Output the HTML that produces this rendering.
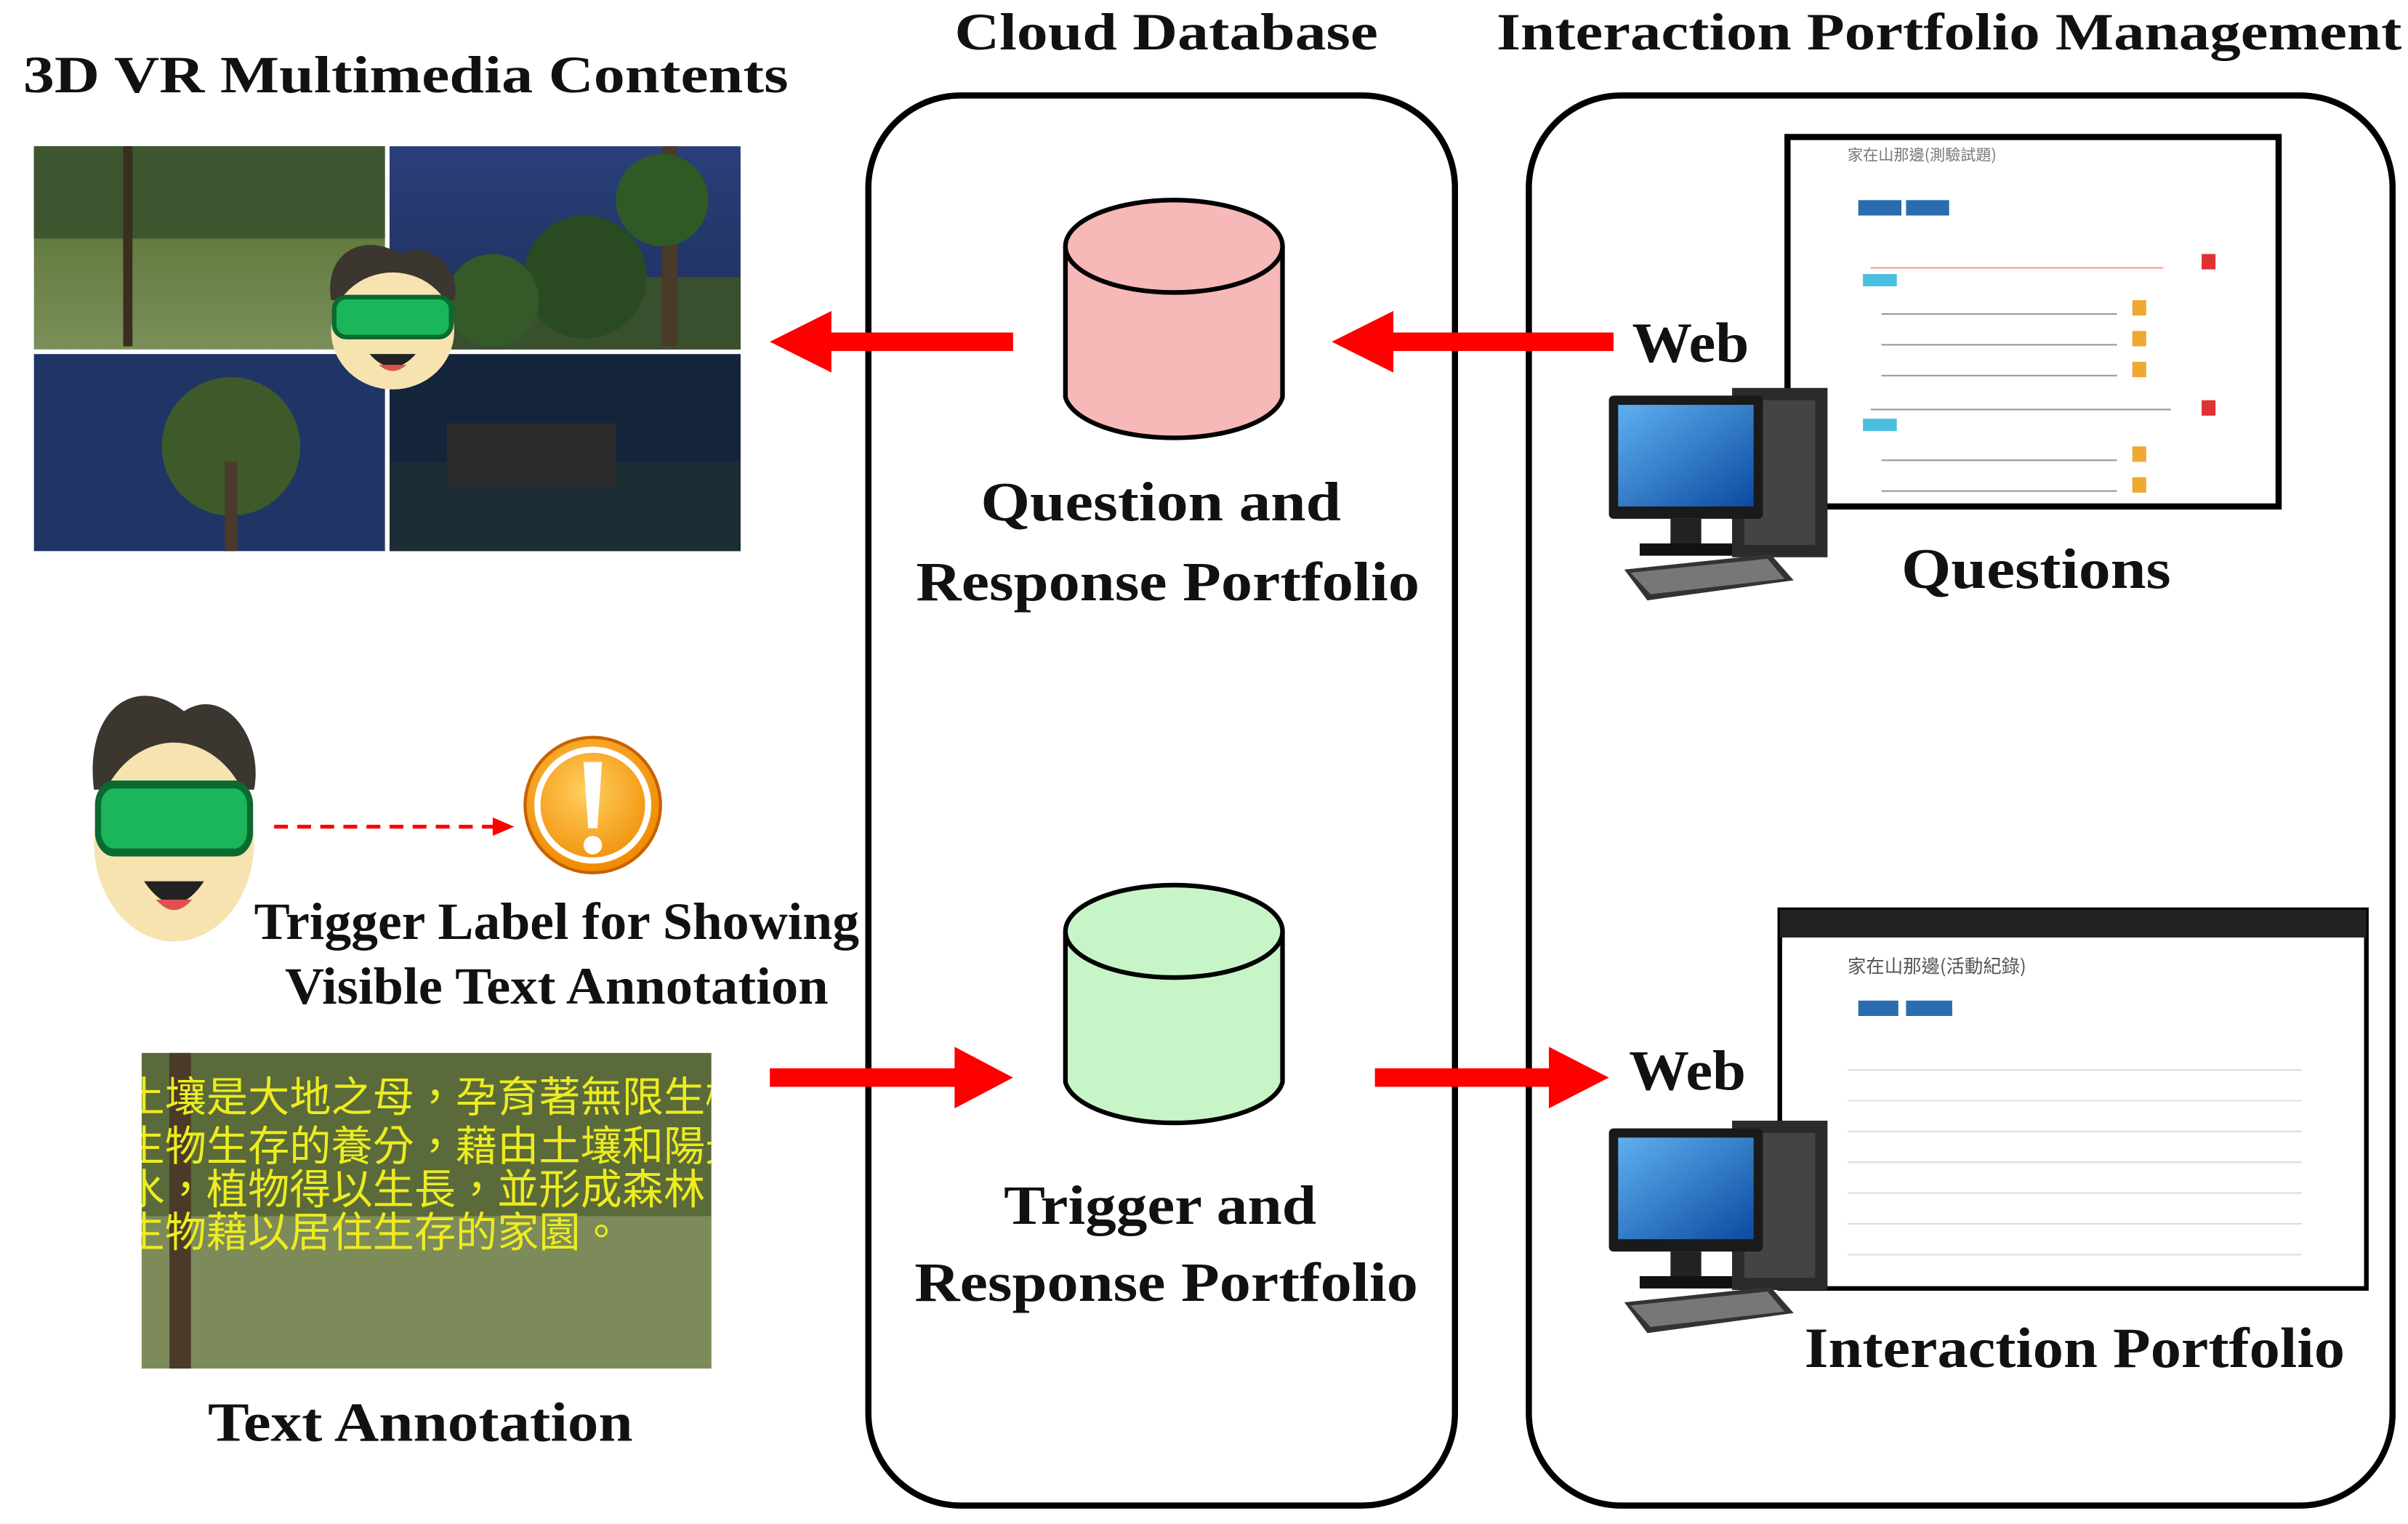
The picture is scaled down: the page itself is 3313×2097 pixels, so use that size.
<!DOCTYPE html>
<html><head><meta charset="utf-8"><style>
html,body{margin:0;padding:0;background:#fff;}
svg{display:block;}
.t{font-family:"Liberation Serif","Noto Serif CJK SC",serif;font-weight:bold;fill:#111;}
</style></head><body>
<svg width="3313" height="2097" viewBox="0 0 1564 990" xmlns="http://www.w3.org/2000/svg">
<defs>
<linearGradient id="sky1" x1="0" y1="0" x2="0" y2="1"><stop offset="0" stop-color="#2a3f7a"/><stop offset="1" stop-color="#1d2f5a"/></linearGradient>
<linearGradient id="grass" x1="0" y1="0" x2="0" y2="1"><stop offset="0" stop-color="#4f6a2a"/><stop offset="1" stop-color="#7b8f5a"/></linearGradient>
<linearGradient id="scr" x1="0" y1="0" x2="1" y2="1"><stop offset="0" stop-color="#5fb0f0"/><stop offset="1" stop-color="#0b4aa0"/></linearGradient>
<radialGradient id="warn" cx="0.45" cy="0.4" r="0.6"><stop offset="0" stop-color="#ffd060"/><stop offset="1" stop-color="#f08a00"/></radialGradient>
<clipPath id="ta"><rect x="92" y="684" width="370" height="205"/></clipPath>
<g id="pc">
  <rect x="80" y="0" width="62" height="110" fill="#2b2b2b"/>
  <rect x="88" y="8" width="46" height="94" fill="#444"/>
  <rect x="0" y="5" width="100" height="80" rx="3" fill="#1a1a1a"/>
  <rect x="6" y="11" width="88" height="66" fill="url(#scr)"/>
  <rect x="40" y="85" width="20" height="18" fill="#222"/>
  <rect x="20" y="101" width="60" height="8" fill="#111"/>
  <polygon points="10,118 105,108 120,125 25,138" fill="#333"/>
  <polygon points="14,120 103,111 114,124 27,134" fill="#777"/>
</g>
<g id="face">
  <path d="M10,40 C5,10 30,-5 55,10 C75,0 95,20 90,40 Z" fill="#3b362f"/>
  <ellipse cx="50" cy="60" rx="40" ry="38" fill="#f6e3b0"/>
  <rect x="12" y="38" width="76" height="26" rx="8" fill="#1bb55a" stroke="#0a6a30" stroke-width="3"/>
  <path d="M35,75 Q50,92 65,75 Z" fill="#222"/><path d="M41,82 Q50,90 59,82 Z" fill="#e05050"/>
</g>
</defs>

<text class="t" x="15" y="60" font-size="34" textLength="497" lengthAdjust="spacingAndGlyphs">3D VR Multimedia Contents</text>
<text class="t" x="620" y="32" font-size="34" textLength="275" lengthAdjust="spacingAndGlyphs">Cloud Database</text>
<text class="t" x="972" y="32" font-size="34" textLength="588" lengthAdjust="spacingAndGlyphs">Interaction Portfolio Management</text>

<rect x="564" y="62" width="381" height="916" rx="60" fill="none" stroke="#000" stroke-width="4"/>
<rect x="993" y="62" width="561" height="916" rx="60" fill="none" stroke="#000" stroke-width="4"/>

<rect x="22" y="95" width="228" height="132" fill="url(#grass)"/>
<rect x="22" y="95" width="228" height="60" fill="#3d5630"/>
<rect x="253" y="95" width="228" height="132" fill="url(#sky1)"/>
<rect x="253" y="180" width="228" height="47" fill="#39502e"/>
<rect x="22" y="230" width="228" height="128" fill="#1f3566"/>
<rect x="253" y="230" width="228" height="128" fill="#14243a"/>
<rect x="253" y="300" width="228" height="58" fill="#1d2d35"/>
<circle cx="150" cy="290" r="45" fill="#3f5a2a"/><rect x="146" y="300" width="8" height="58" fill="#4a3a2a"/>
<circle cx="380" cy="180" r="40" fill="#2a4a22"/><circle cx="320" cy="195" r="30" fill="#355a2a"/>
<rect x="430" y="95" width="10" height="130" fill="#4a3a2a"/><circle cx="430" cy="130" r="30" fill="#2f5a25"/>
<rect x="80" y="95" width="6" height="130" fill="#3a2e20"/>
<rect x="290" y="275" width="110" height="40" fill="#2a2a2a"/>
<use href="#face" x="205" y="155"/>

<g fill="#f00" stroke="none">
<rect x="538" y="216" width="120" height="12"/><polygon points="500,222 540,202 540,242"/>
<rect x="902" y="216" width="146" height="12"/><polygon points="865,222 905,202 905,242"/>
<rect x="500" y="694" width="122" height="12"/><polygon points="658,700 620,680 620,720"/>
<rect x="893" y="694" width="115" height="12"/><polygon points="1045,700 1006,680 1006,720"/>
</g>

<path d="M692,160 L692,258 A71,30 0 0 0 833,258 L833,160" fill="#f7b8b8" stroke="#000" stroke-width="3"/>
<ellipse cx="762.5" cy="160" rx="70.5" ry="30" fill="#f7b8b8" stroke="#000" stroke-width="3"/>
<path d="M692,605 L692,703 A71,30 0 0 0 833,703 L833,605" fill="#c8f5c8" stroke="#000" stroke-width="3"/>
<ellipse cx="762.5" cy="605" rx="70.5" ry="30" fill="#c8f5c8" stroke="#000" stroke-width="3"/>

<text class="t" x="637" y="338" font-size="36" textLength="234" lengthAdjust="spacingAndGlyphs">Question and</text>
<text class="t" x="595" y="390" font-size="36" textLength="327" lengthAdjust="spacingAndGlyphs">Response Portfolio</text>
<text class="t" x="652" y="795" font-size="36" textLength="203" lengthAdjust="spacingAndGlyphs">Trigger and</text>
<text class="t" x="594" y="845" font-size="36" textLength="327" lengthAdjust="spacingAndGlyphs">Response Portfolio</text>

<rect x="1161" y="89" width="319" height="240" fill="#fff" stroke="#000" stroke-width="4"/>
<text x="1200" y="104" font-size="10" fill="#777" font-family="Noto Sans CJK TC,sans-serif">家在山那邊(測驗試題)</text>
<rect x="1207" y="130" width="28" height="10" fill="#2b6cb0"/><rect x="1238" y="130" width="28" height="10" fill="#2b6cb0"/>
<line x1="1215" y1="174" x2="1405" y2="174" stroke="#f99" stroke-width="1"/><rect x="1430" y="165" width="9" height="10" fill="#d33"/>
<rect x="1210" y="178" width="22" height="8" fill="#4bc0de"/>
<g fill="#f0a830"><rect x="1385" y="195" width="9" height="10"/><rect x="1385" y="215" width="9" height="10"/><rect x="1385" y="235" width="9" height="10"/><rect x="1385" y="290" width="9" height="10"/><rect x="1385" y="310" width="9" height="10"/></g>
<g stroke="#999" stroke-width="1"><line x1="1222" y1="204" x2="1375" y2="204"/><line x1="1222" y1="224" x2="1375" y2="224"/><line x1="1222" y1="244" x2="1375" y2="244"/><line x1="1215" y1="266" x2="1410" y2="266"/><line x1="1222" y1="299" x2="1375" y2="299"/><line x1="1222" y1="319" x2="1375" y2="319"/></g>
<rect x="1430" y="260" width="9" height="10" fill="#d33"/><rect x="1210" y="272" width="22" height="8" fill="#4bc0de"/>
<use href="#pc" x="1045" y="252"/>
<text class="t" x="1060" y="235" font-size="37" textLength="76" lengthAdjust="spacingAndGlyphs">Web</text>
<text class="t" x="1235" y="382" font-size="37" textLength="175" lengthAdjust="spacingAndGlyphs">Questions</text>

<rect x="1156" y="591" width="381" height="246" fill="#fff" stroke="#000" stroke-width="3"/>
<rect x="1156" y="591" width="381" height="18" fill="#222"/>
<text x="1200" y="632" font-size="12" fill="#555" font-family="Noto Sans CJK TC,sans-serif">家在山那邊(活動紀錄)</text>
<rect x="1207" y="650" width="26" height="10" fill="#2b6cb0"/><rect x="1238" y="650" width="30" height="10" fill="#2b6cb0"/>
<g stroke="#ddd" stroke-width="1"><line x1="1200" y1="695" x2="1495" y2="695"/><line x1="1200" y1="715" x2="1495" y2="715"/><line x1="1200" y1="735" x2="1495" y2="735"/><line x1="1200" y1="755" x2="1495" y2="755"/><line x1="1200" y1="775" x2="1495" y2="775"/><line x1="1200" y1="795" x2="1495" y2="795"/><line x1="1200" y1="815" x2="1495" y2="815"/></g>
<use href="#pc" x="1045" y="728"/>
<text class="t" x="1058" y="708" font-size="37" textLength="76" lengthAdjust="spacingAndGlyphs">Web</text>
<text class="t" x="1172" y="888" font-size="37" textLength="351" lengthAdjust="spacingAndGlyphs">Interaction Portfolio</text>

<g transform="translate(48,445) scale(1.3,1.7)"><use href="#face"/></g>
<line x1="178" y1="537" x2="322" y2="537" stroke="#f00" stroke-width="2.5" stroke-dasharray="9,6"/>
<polygon points="334,537 320,531 320,543" fill="#f00"/>
<circle cx="385" cy="523" r="44" fill="url(#warn)" stroke="#c86000" stroke-width="2"/>
<circle cx="385" cy="523" r="36" fill="none" stroke="#fff" stroke-width="4"/>
<path d="M379,495 L391,495 L388,538 L382,538 Z" fill="#fff"/><circle cx="385" cy="549" r="6" fill="#fff"/>
<text class="t" x="165" y="610" font-size="34" textLength="393" lengthAdjust="spacingAndGlyphs">Trigger Label for Showing</text>
<text class="t" x="185" y="652" font-size="34" textLength="353" lengthAdjust="spacingAndGlyphs">Visible Text Annotation</text>

<rect x="92" y="684" width="370" height="205" fill="#5a6a3a"/>
<rect x="92" y="790" width="370" height="99" fill="#7d8a5a"/>
<rect x="110" y="684" width="14" height="205" fill="#4a3b28"/>
<g font-family="Noto Sans CJK TC,sans-serif" font-size="27" fill="#ecec20" clip-path="url(#ta)">
<text x="80" y="722">土壤是大地之母，孕育著無限生機</text>
<text x="80" y="754">生物生存的養分，藉由土壤和陽光、</text>
<text x="80" y="782">水，植物得以生長，並形成森林，</text>
<text x="80" y="810">生物藉以居住生存的家園。</text>
</g>
<text class="t" x="135" y="936" font-size="36" textLength="276" lengthAdjust="spacingAndGlyphs">Text Annotation</text>
</svg>
</body></html>
